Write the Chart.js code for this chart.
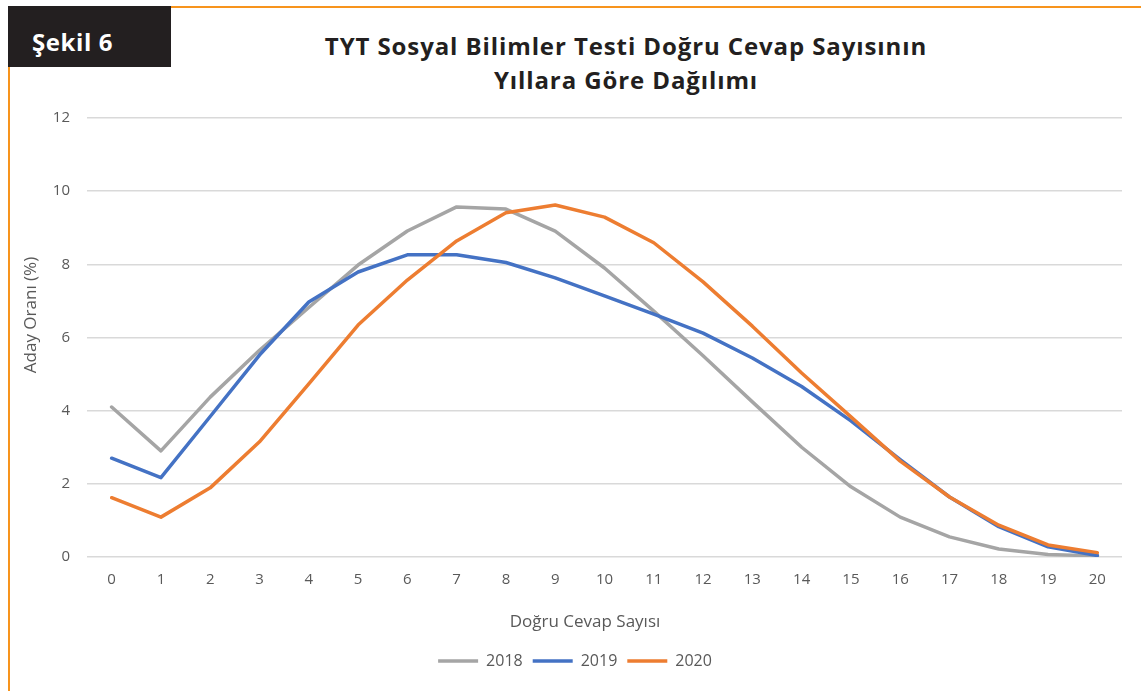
<!DOCTYPE html>
<html lang="tr">
<head>
<meta charset="utf-8">
<title>Şekil 6</title>
<script src="https://cdn.jsdelivr.net/npm/chart.js@4/dist/chart.umd.min.js"></script>
<style>
    html, body {
        margin: 0;
        padding: 0;
        background: #ffffff;
    }
    #page {
        position: relative;
        width: 1141px;
        height: 691px;
        overflow: hidden;
        font-family: 'Open Sans', sans-serif;
    }
    #badge {
        position: absolute;
        left: 8px;
        top: 6px;
        width: 163px;
        height: 61px;
        background: #231f20;
        color: #ffffff;
        font-weight: 700;
        font-size: 24px;
        letter-spacing: 0.6px;
        line-height: 36px;
        padding: 18px 0 0 24px;
        box-sizing: border-box;
    }
    #topLine {
        position: absolute;
        left: 171px;
        top: 6px;
        right: 0;
        height: 2px;
        background: #f7941d;
    }
    #leftLine {
        position: absolute;
        left: 8px;
        top: 67px;
        bottom: 0;
        width: 2px;
        background: #f7941d;
    }
    #title {
        position: absolute;
        left: 226px;
        top: 29px;
        width: 800px;
        text-align: center;
        font-weight: 700;
        font-size: 24px;
        letter-spacing: 0.9px;
        line-height: 34px;
        color: #231f20;
    }
    #chartBox {
        position: absolute;
        left: 0;
        top: 90px;
        width: 1141px;
        height: 601px;
    }
    .axisTitle {
        position: absolute;
        color: #595959;
        font-size: 17px;
        line-height: 20px;
        white-space: nowrap;
        text-align: center;
        width: 300px;
    }
    #xTitle {
        left: 435px;
        top: 611px;
    }
    #yTitle {
        left: -120px;
        top: 305px;
        transform: rotate(-90deg);
    }
</style>
</head>
<body>
<div id="page">
    <div id="topLine"></div>
    <div id="leftLine"></div>
    <div id="badge">Şekil 6</div>
    <div id="title">TYT Sosyal Bilimler Testi Doğru Cevap Sayısının<br>Yıllara Göre Dağılımı</div>
    <div id="chartBox"><canvas id="chart"></canvas></div>
    <div class="axisTitle" id="xTitle">Doğru Cevap Sayısı</div>
    <div class="axisTitle" id="yTitle">Aday Oranı (%)</div>
</div>
<script>
// x categories: number of correct answers
const correctCounts = ['0', '1', '2', '3', '4', '5', '6', '7', '8', '9', '10',
    '11', '12', '13', '14', '15', '16', '17', '18', '19', '20'];

// candidate share (%) per year
const share2018 = [4.1, 2.9, 4.37, 5.65, 6.82, 7.98, 8.91, 9.57, 9.51, 8.91, 7.9,
    6.72, 5.5, 4.24, 3.0, 1.92, 1.09, 0.55, 0.22, 0.07, 0.03];
const share2019 = [2.7, 2.17, 3.84, 5.52, 6.97, 7.79, 8.26, 8.26, 8.05, 7.63, 7.14,
    6.64, 6.12, 5.44, 4.66, 3.72, 2.66, 1.64, 0.83, 0.28, 0.04];
const share2020 = [1.62, 1.09, 1.89, 3.15, 4.73, 6.34, 7.57, 8.64, 9.41, 9.62, 9.29,
    8.59, 7.52, 6.31, 5.03, 3.83, 2.62, 1.64, 0.87, 0.33, 0.12];

const yearLabels = ['2018', '2019', '2020'];
const yearColors = ['#a5a5a5', '#4472c4', '#ed7d31'];

const textColor = '#595959';
const fontFamily = "'Open Sans', sans-serif";

function lineDataset(i, values) {
    return {
        label: yearLabels[i],
        data: values,
        borderColor: yearColors[i],
        backgroundColor: yearColors[i],
        borderWidth: 3.5,
        borderCapStyle: 'round',
        borderJoinStyle: 'round',
        pointRadius: 0,
        pointHoverRadius: 0,
        tension: 0,
        fill: false,
        // later years drawn on top
        order: 3 - i,
    };
}

// legend sits a bit right of the chart centre in the original
const legendShift = {
    id: 'legendShift',
    afterLayout(chart) {
        chart.legend.left += 14;
        chart.legend.right += 14;
    },
};

new Chart(document.getElementById('chart'), {
    type: 'line',
    data: {
        labels: correctCounts,
        datasets: [
            lineDataset(0, share2018),
            lineDataset(1, share2019),
            lineDataset(2, share2020),
        ],
    },
    plugins: [legendShift],
    options: {
        responsive: true,
        maintainAspectRatio: false,
        animation: false,
        layout: {
            padding: { left: 0, right: 19, top: 28, bottom: 12 },
        },
        plugins: {
            tooltip: { enabled: false },
            legend: {
                position: 'bottom',
                labels: {
                    color: textColor,
                    font: { family: fontFamily, size: 16 },
                    usePointStyle: true,
                    pointStyle: 'line',
                    pointStyleWidth: 40,
                    boxHeight: 4,
                    padding: 10,
                    sort: (a, b) => a.datasetIndex - b.datasetIndex,
                },
            },
        },
        scales: {
            x: {
                offset: true,
                grid: { display: false, drawTicks: false },
                border: { display: false },
                ticks: {
                    color: textColor,
                    font: { family: fontFamily, size: 15 },
                    padding: 14,
                    maxRotation: 0,
                    autoSkip: false,
                },
                afterFit: (scale) => { scale.height = 86; },
            },
            y: {
                min: 0,
                max: 12,
                ticks: {
                    stepSize: 2,
                    color: textColor,
                    font: { family: fontFamily, size: 15 },
                    padding: 17,
                },
                grid: { color: '#d9d9d9', lineWidth: 1.5, drawTicks: false },
                border: { display: false },
                afterFit: (scale) => { scale.width = 87; },
            },
        },
    },
});
</script>
</body>
</html>
